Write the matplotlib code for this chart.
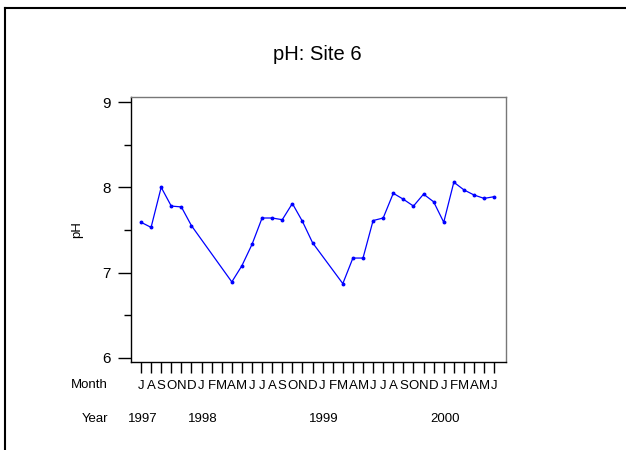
import numpy as np
import matplotlib.pyplot as plt
from matplotlib.lines import Line2D

plt.rcParams['font.family'] = ['Liberation Sans', 'DejaVu Sans']

# months Jul 1997 .. Jun 2000
month_letters = ['J', 'A', 'S', 'O', 'N', 'D',
                 'J', 'F', 'M', 'A', 'M', 'J', 'J', 'A', 'S', 'O', 'N', 'D',
                 'J', 'F', 'M', 'A', 'M', 'J', 'J', 'A', 'S', 'O', 'N', 'D',
                 'J', 'F', 'M', 'A', 'M', 'J']
years = ['1997', '1998', '1999', '2000']
year_month_idx = [0, 6, 18, 30]

# sample months (index into month_letters) and pH readings
sample_idx = [0, 1, 2, 3, 4, 5,
              9, 10, 11, 12, 13, 14, 15, 16, 17,
              20, 21, 22, 23, 24, 25, 26, 27, 28, 29, 30, 31, 32, 33, 34, 35]
ph = [7.59, 7.53, 8.00, 7.78, 7.77, 7.55,
      6.89, 7.08, 7.33, 7.64, 7.64, 7.62, 7.81, 7.60, 7.35,
      6.87, 7.17, 7.17, 7.61, 7.64, 7.93, 7.86, 7.78, 7.92, 7.83,
      7.59, 8.06, 7.97, 7.91, 7.87, 7.89]

fig = plt.figure(figsize=(6.26, 4.5), dpi=100)
ax = fig.add_axes([131 / 626, 1 - 362 / 450, 375 / 626, 265 / 450])

ax.plot(sample_idx, ph, color='#0000ff', lw=0.9, marker='o', ms=1.8)

ax.set_xlim(-0.99, 36.17)
ax.set_ylim(5.95, 9.06)

ax.set_yticks([6, 7, 8, 9])
ax.set_yticks([6.5, 7.5, 8.5], minor=True)
ax.tick_params(axis='y', which='major', length=9.5, width=1, pad=5, labelsize=11)
ax.tick_params(axis='y', which='minor', length=5, width=1)

ax.set_xticks(range(len(month_letters)))
ax.set_xticklabels(month_letters)
ax.tick_params(axis='x', length=8, width=1, pad=5, labelsize=9.5)

for s in ['left', 'bottom']:
    ax.spines[s].set_color('black')
    ax.spines[s].set_linewidth(1)
for s in ['top', 'right']:
    ax.spines[s].set_color('#777777')
    ax.spines[s].set_linewidth(1)

ax.set_ylabel('pH', fontsize=9.5, labelpad=14)

tr = ax.get_xaxis_transform()
ax.text(-3.27, -0.087, 'Month', transform=tr, ha='right', va='center',
        fontsize=9.5, clip_on=False)
ax.text(-3.27, -0.215, 'Year', transform=tr, ha='right', va='center',
        fontsize=9.5, clip_on=False)
for yr, m in zip(years, year_month_idx):
    ax.text(m + 0.15, -0.215, yr, transform=tr, ha='center', va='center',
            fontsize=9.5, clip_on=False)

fig.text(317 / 626, 1 - 60 / 450, 'pH: Site 6', ha='center', va='baseline',
         fontsize=14.5)

# outer frame (left and top edges)
fig.add_artist(Line2D([5 / 626, 5 / 626], [0, 1 - 7.5 / 450],
                      transform=fig.transFigure, color='black', lw=1.5))
fig.add_artist(Line2D([5 / 626, 1], [1 - 7.5 / 450, 1 - 7.5 / 450],
                      transform=fig.transFigure, color='black', lw=1.5))

fig.savefig('out.png', dpi=100)
